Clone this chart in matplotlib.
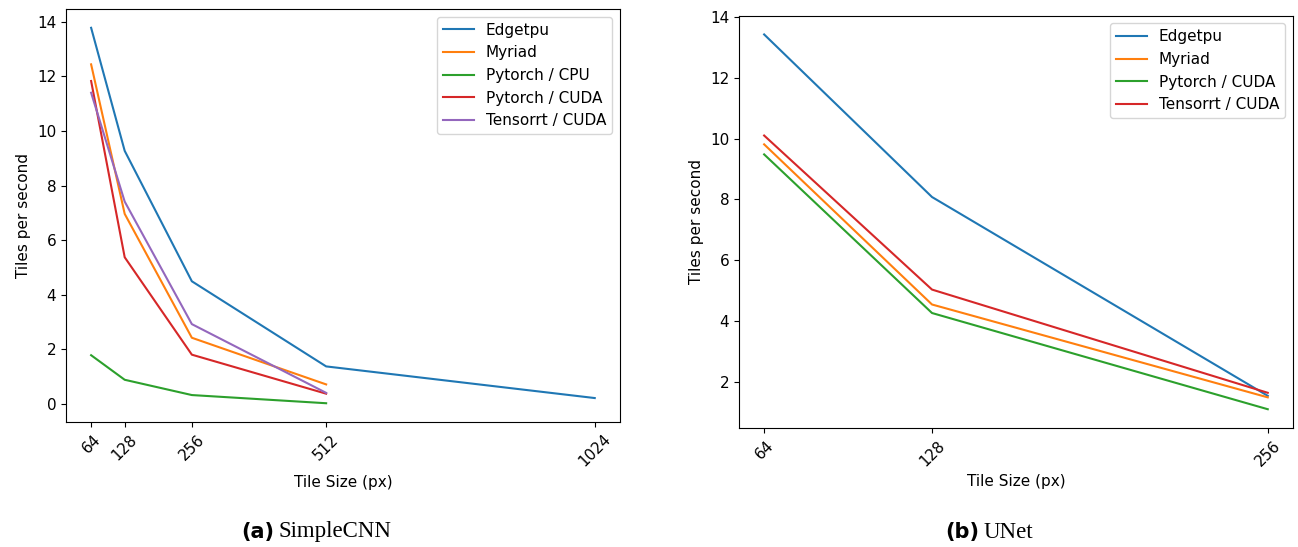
import matplotlib
matplotlib.use("Agg")
import matplotlib.pyplot as plt

# ---- data ----
cnn_sizes = [64, 128, 256, 512, 1024]
cnn_edgetpu = [13.78, 9.27, 4.49, 1.37, 0.21]
cnn_myriad = [12.44, 6.96, 2.42, 0.71]
cnn_torch_cpu = [1.78, 0.88, 0.32, 0.02]
cnn_torch_cuda = [11.83, 5.37, 1.80, 0.37]
cnn_tensorrt = [11.40, 7.41, 2.92, 0.40]

unet_sizes = [64, 128, 256]
unet_edgetpu = [13.42, 8.08, 1.55]
unet_myriad = [9.81, 4.55, 1.50]
unet_torch_cuda = [9.48, 4.27, 1.11]
unet_tensorrt = [10.10, 5.04, 1.65]

plt.rcParams["font.size"] = 11

fig = plt.figure(figsize=(12.98, 5.47), dpi=100)
ax1 = fig.add_axes([0.0508, 0.2285, 0.4268, 0.755])
ax2 = fig.add_axes([0.5693, 0.2176, 0.4268, 0.7537])

# (a) SimpleCNN
ax1.plot(cnn_sizes, cnn_edgetpu, color="tab:blue", label="Edgetpu")
ax1.plot(cnn_sizes[:4], cnn_myriad, color="tab:orange", label="Myriad")
ax1.plot(cnn_sizes[:4], cnn_torch_cpu, color="tab:green", label="Pytorch / CPU")
ax1.plot(cnn_sizes[:4], cnn_torch_cuda, color="tab:red", label="Pytorch / CUDA")
ax1.plot(cnn_sizes[:4], cnn_tensorrt, color="tab:purple", label="Tensorrt / CUDA")
ax1.set_xticks(cnn_sizes)
ax1.set_xticklabels([str(s) for s in cnn_sizes], rotation=45)
ax1.set_xlabel("Tile Size (px)")
ax1.set_ylabel("Tiles per second")
ax1.legend(loc="upper right")

# (b) UNet
ax2.plot(unet_sizes, unet_edgetpu, color="tab:blue", label="Edgetpu")
ax2.plot(unet_sizes, unet_myriad, color="tab:orange", label="Myriad")
ax2.plot(unet_sizes, unet_torch_cuda, color="tab:green", label="Pytorch / CUDA")
ax2.plot(unet_sizes, unet_tensorrt, color="tab:red", label="Tensorrt / CUDA")
ax2.set_xticks(unet_sizes)
ax2.set_xticklabels([str(s) for s in unet_sizes], rotation=45)
ax2.set_xlabel("Tile Size (px)")
ax2.set_ylabel("Tiles per second")
ax2.legend(loc="upper right")

# sub-captions: bold sans tag + serif name
W, H = 1298, 547
cap_y = 1 - 532 / H
for tag, name, xsplit in [("(a)", "SimpleCNN", 274), ("(b)", "UNet", 979)]:
    fig.text(xsplit / W, cap_y, tag, ha="right", va="center",
             fontsize=15, fontweight="bold", family="DejaVu Sans")
    fig.text((xsplit + 5) / W, cap_y, name, ha="left", va="center",
             fontsize=16.5, family="Liberation Serif")

fig.savefig("out.png", dpi=100)
